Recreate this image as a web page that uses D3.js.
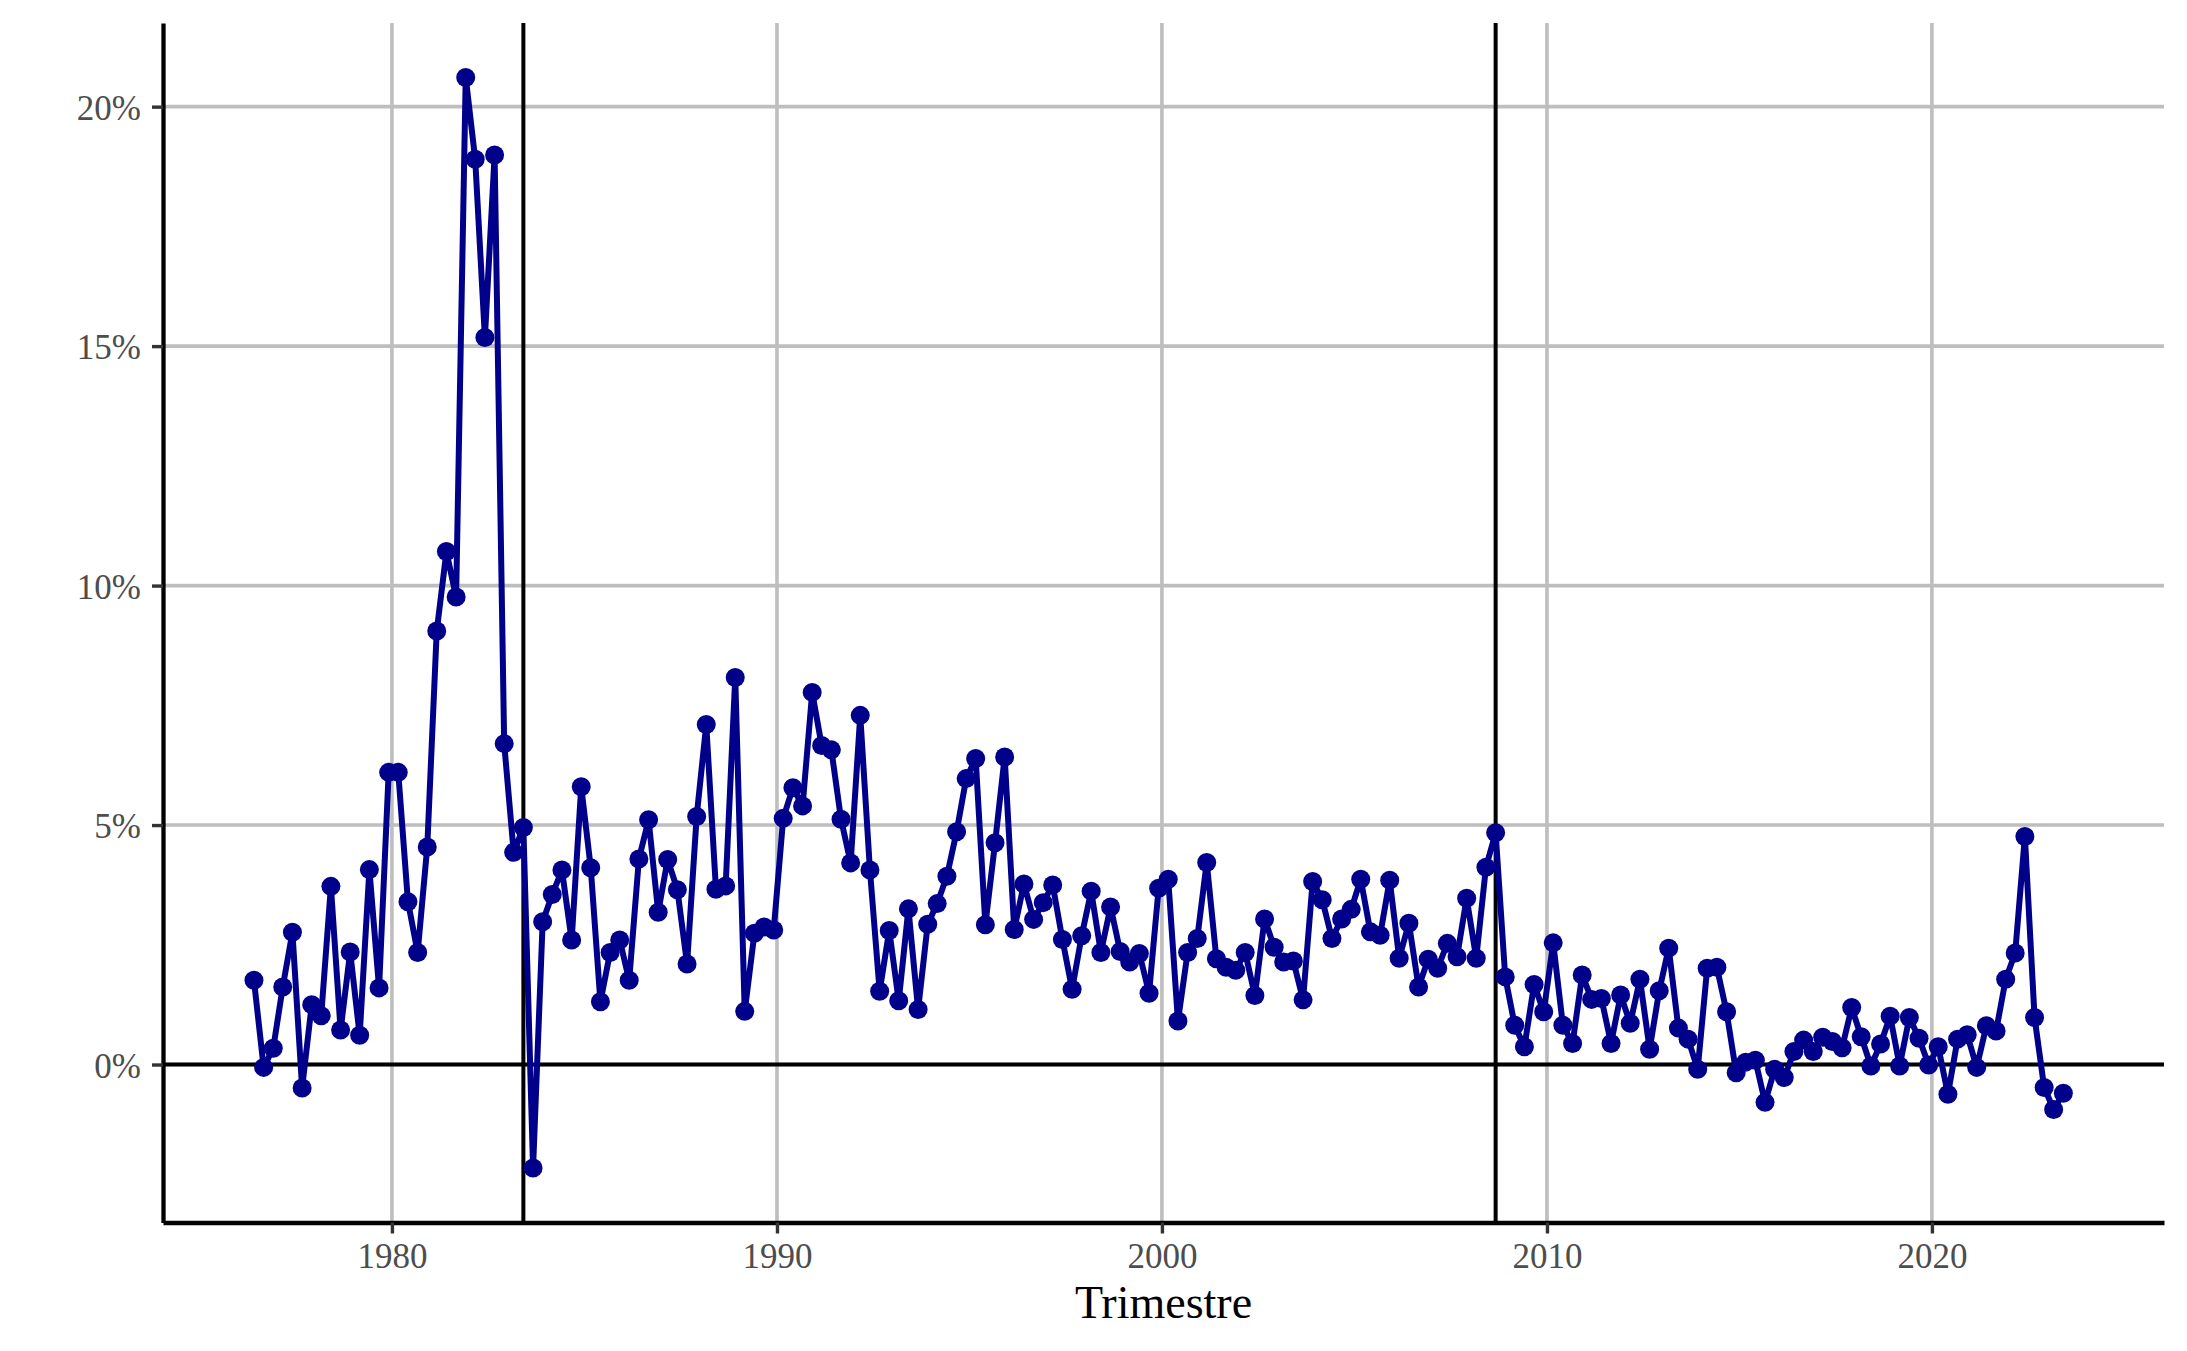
<!DOCTYPE html>
<html>
<head>
<meta charset="utf-8">
<script src="https://cdn.jsdelivr.net/npm/d3@7"></script>
<style>
  html, body { margin: 0; padding: 0; background: #ffffff; }
  svg { display: block; }
</style>
</head>
<body>
<svg id="chart" width="2187" height="1351"></svg>
<script>
// ---------- DATA ----------
const quarters = [
  "1976-T2","1976-T3","1976-T4",
  "1977-T1","1977-T2","1977-T3","1977-T4",
  "1978-T1","1978-T2","1978-T3","1978-T4",
  "1979-T1","1979-T2","1979-T3","1979-T4",
  "1980-T1","1980-T2","1980-T3","1980-T4",
  "1981-T1","1981-T2","1981-T3","1981-T4",
  "1982-T1","1982-T2","1982-T3","1982-T4",
  "1983-T1","1983-T2","1983-T3","1983-T4",
  "1984-T1","1984-T2","1984-T3","1984-T4",
  "1985-T1","1985-T2","1985-T3","1985-T4",
  "1986-T1","1986-T2","1986-T3","1986-T4",
  "1987-T1","1987-T2","1987-T3","1987-T4",
  "1988-T1","1988-T2","1988-T3","1988-T4",
  "1989-T1","1989-T2","1989-T3","1989-T4",
  "1990-T1","1990-T2","1990-T3","1990-T4",
  "1991-T1","1991-T2","1991-T3","1991-T4",
  "1992-T1","1992-T2","1992-T3","1992-T4",
  "1993-T1","1993-T2","1993-T3","1993-T4",
  "1994-T1","1994-T2","1994-T3","1994-T4",
  "1995-T1","1995-T2","1995-T3","1995-T4",
  "1996-T1","1996-T2","1996-T3","1996-T4",
  "1997-T1","1997-T2","1997-T3","1997-T4",
  "1998-T1","1998-T2","1998-T3","1998-T4",
  "1999-T1","1999-T2","1999-T3","1999-T4",
  "2000-T1","2000-T2","2000-T3","2000-T4",
  "2001-T1","2001-T2","2001-T3","2001-T4",
  "2002-T1","2002-T2","2002-T3","2002-T4",
  "2003-T1","2003-T2","2003-T3","2003-T4",
  "2004-T1","2004-T2","2004-T3","2004-T4",
  "2005-T1","2005-T2","2005-T3","2005-T4",
  "2006-T1","2006-T2","2006-T3","2006-T4",
  "2007-T1","2007-T2","2007-T3","2007-T4",
  "2008-T1","2008-T2","2008-T3","2008-T4",
  "2009-T1","2009-T2","2009-T3","2009-T4",
  "2010-T1","2010-T2","2010-T3","2010-T4",
  "2011-T1","2011-T2","2011-T3","2011-T4",
  "2012-T1","2012-T2","2012-T3","2012-T4",
  "2013-T1","2013-T2","2013-T3","2013-T4",
  "2014-T1","2014-T2","2014-T3","2014-T4",
  "2015-T1","2015-T2","2015-T3","2015-T4",
  "2016-T1","2016-T2","2016-T3","2016-T4",
  "2017-T1","2017-T2","2017-T3","2017-T4",
  "2018-T1","2018-T2","2018-T3","2018-T4",
  "2019-T1","2019-T2","2019-T3","2019-T4",
  "2020-T1","2020-T2","2020-T3","2020-T4",
  "2021-T1","2021-T2","2021-T3","2021-T4",
  "2022-T1","2022-T2","2022-T3","2022-T4",
  "2023-T1","2023-T2"
];

// values in percent
const values = [
  1.76, -0.06, 0.34,
  1.62, 2.76, -0.49, 1.25,
  1.02, 3.72, 0.72, 2.35,
  0.61, 4.07, 1.60, 6.10,
  6.10, 3.40, 2.34, 4.54,
  9.05, 10.71, 9.76, 20.61,
  18.90, 15.18, 18.99, 6.70,
  4.43, 4.95, -2.16, 2.98,
  3.55, 4.06, 2.60, 5.80,
  4.11, 1.31, 2.34, 2.60,
  1.76, 4.29, 5.11, 3.18,
  4.28, 3.65, 2.10, 5.18,
  7.10, 3.66, 3.73, 8.08,
  1.11, 2.74, 2.87, 2.81,
  5.14, 5.78, 5.40, 7.77,
  6.66, 6.57, 5.12, 4.21,
  7.29, 4.06, 1.53, 2.80,
  1.33, 3.25, 1.15, 2.93,
  3.36, 3.93, 4.86, 5.97,
  6.39, 2.92, 4.63, 6.42,
  2.82, 3.77, 3.03, 3.38,
  3.75, 2.61, 1.57, 2.69,
  3.62, 2.34, 3.29, 2.36,
  2.14, 2.32, 1.49, 3.68,
  3.87, 0.91, 2.34, 2.63,
  4.22, 2.21, 2.03, 1.97,
  2.34, 1.44, 3.04, 2.45,
  2.14, 2.16, 1.35, 3.82,
  3.44, 2.63, 3.04, 3.24,
  3.87, 2.77, 2.70, 3.85,
  2.22, 2.95, 1.62, 2.20,
  2.01, 2.53, 2.25, 3.47,
  2.22, 4.12, 4.84, 1.83,
  0.82, 0.37, 1.67, 1.10,
  2.54, 0.82, 0.44, 1.87,
  1.36, 1.38, 0.44, 1.45,
  0.86, 1.78, 0.32, 1.54,
  2.43, 0.76, 0.53, -0.10,
  2.01, 2.03, 1.10, -0.17,
  0.05, 0.09, -0.79, -0.10,
  -0.27, 0.27, 0.51, 0.27,
  0.57, 0.48, 0.35, 1.19,
  0.58, -0.03, 0.43, 1.01,
  -0.03, 0.98, 0.55, -0.01,
  0.37, -0.62, 0.53, 0.62,
  -0.06, 0.81, 0.70, 1.78,
  2.33, 4.76, 0.98, -0.48,
  -0.94, -0.60
];

// vertical reference lines (quarters)
const vlineQuarters = ["1983-T2", "2008-T3"];
// horizontal reference line (percent)
const hlineValues = [0];

// tick values
const xTickYears = [1980, 1990, 2000, 2010, 2020];
const yTickValues = [0, 5, 10, 15, 20];
const xTitle = "Trimestre";

// ---------- HELPERS ----------
function quarterDate(s) {
  const [y, t] = s.split("-T");
  return new Date(Date.UTC(+y, (+t - 1) * 3 + 2, 1));
}

const data = quarters.map((q, i) => ({ date: quarterDate(q), value: values[i] }));

// ---------- LAYOUT ----------
const W = 2187, H = 1351;
const panel = { left: 163, right: 2164, top: 22.9, bottom: 1222.5 };

const svg = d3.select("#chart");
svg.append("rect").attr("width", W).attr("height", H).attr("fill", "#ffffff");

// x domain: data range (plus one trailing quarter) expanded 5% each side
const x0 = data[0].date.getTime();
const x1 = Date.UTC(2023, 8, 1);
const xPad = (x1 - x0) * 0.05;
const x = d3.scaleUtc()
  .domain([new Date(x0 - xPad), new Date(x1 + xPad)])
  .range([panel.left, panel.right]);

const yMin = d3.min(values), yMax = d3.max(values);
const yPad = (yMax - yMin) * 0.05;
const y = d3.scaleLinear()
  .domain([yMin - yPad, yMax + yPad])
  .range([panel.bottom, panel.top]);

const xTicks = xTickYears.map(yr => new Date(Date.UTC(yr, 0, 1)));

// ---------- GRID ----------
const grid = svg.append("g");
grid.selectAll("line.gx").data(xTicks).join("line")
  .attr("x1", d => x(d)).attr("x2", d => x(d))
  .attr("y1", panel.top).attr("y2", panel.bottom)
  .attr("stroke", "#bebebe").attr("stroke-width", 3.6);
grid.selectAll("line.gy").data(yTickValues).join("line")
  .attr("x1", panel.left).attr("x2", panel.right)
  .attr("y1", d => y(d)).attr("y2", d => y(d))
  .attr("stroke", "#bebebe").attr("stroke-width", 3.6);

// ---------- REFERENCE LINES ----------
svg.append("g").selectAll("line").data(hlineValues).join("line")
  .attr("x1", panel.left).attr("x2", panel.right)
  .attr("y1", d => y(d)).attr("y2", d => y(d))
  .attr("stroke", "#000").attr("stroke-width", 4);
svg.append("g").selectAll("line").data(vlineQuarters).join("line")
  .attr("x1", d => x(quarterDate(d))).attr("x2", d => x(quarterDate(d)))
  .attr("y1", panel.top).attr("y2", panel.bottom)
  .attr("stroke", "#000").attr("stroke-width", 4);

// ---------- AXES ----------
const fontFam = "'Liberation Serif', 'Times New Roman', serif";

const yAxis = svg.append("g")
  .attr("transform", `translate(${panel.left},0)`)
  .call(d3.axisLeft(y).tickValues(yTickValues).tickFormat(d => d + "%")
    .tickSize(11).tickSizeOuter(0).tickPadding(11));
yAxis.select(".domain").attr("stroke", "#000").attr("stroke-width", 4.3);
yAxis.selectAll(".tick line").attr("stroke", "#333333").attr("stroke-width", 3.4);
yAxis.selectAll(".tick text")
  .attr("font-family", fontFam).attr("font-size", 35)
  .attr("fill", "#4d4d4d").attr("dy", "0.36em");

const xAxis = svg.append("g")
  .attr("transform", `translate(0,${panel.bottom})`)
  .call(d3.axisBottom(x).tickValues(xTicks).tickFormat(d3.utcFormat("%Y"))
    .tickSize(11).tickSizeOuter(0).tickPadding(10));
xAxis.select(".domain").attr("stroke", "#000").attr("stroke-width", 4.3);
xAxis.selectAll(".tick line").attr("stroke", "#333333").attr("stroke-width", 3.4);
xAxis.selectAll(".tick text")
  .attr("font-family", fontFam).attr("font-size", 35)
  .attr("fill", "#4d4d4d");

// axis title
svg.append("text")
  .attr("x", (panel.left + panel.right) / 2)
  .attr("y", 1318)
  .attr("text-anchor", "middle")
  .attr("font-family", fontFam)
  .attr("font-size", 46)
  .attr("fill", "#000")
  .text(xTitle);

// ---------- SERIES ----------
const line = d3.line().x(d => x(d.date)).y(d => y(d.value));
svg.append("path")
  .datum(data)
  .attr("d", line)
  .attr("fill", "none")
  .attr("stroke", "#00008b")
  .attr("stroke-width", 6)
  .attr("stroke-linejoin", "round");

svg.append("g").selectAll("circle").data(data).join("circle")
  .attr("cx", d => x(d.date))
  .attr("cy", d => y(d.value))
  .attr("r", 9.5)
  .attr("fill", "#00008b");
</script>
</body>
</html>
